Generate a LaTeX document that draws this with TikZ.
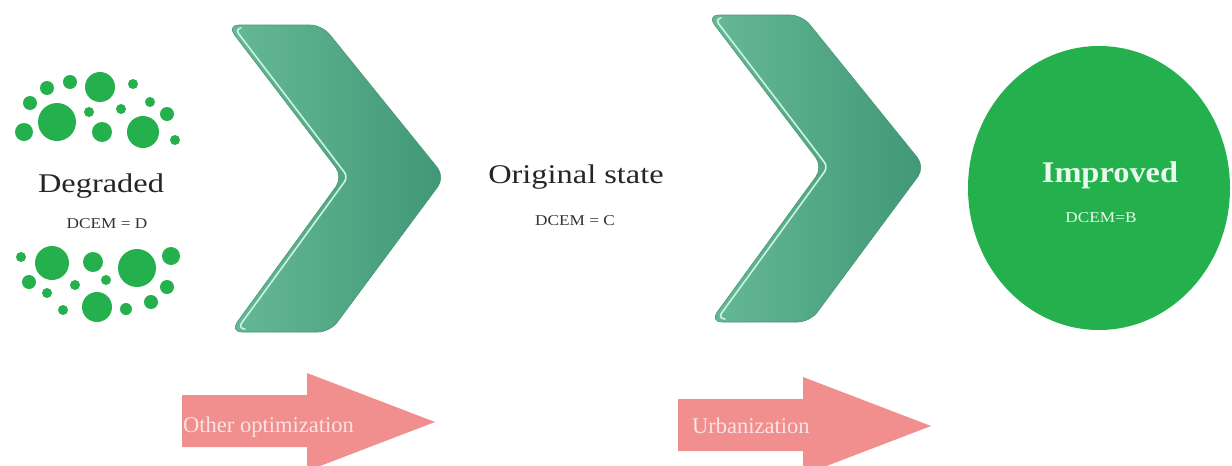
\documentclass[tikz,border=0pt]{standalone}
\usepackage{fontspec}
\setmainfont{Liberation Serif}
\usetikzlibrary{calc}
\definecolor{dotgreen}{RGB}{36,176,76}
\definecolor{chevlight}{RGB}{102,185,150}
\definecolor{chevdark}{RGB}{64,152,118}
\definecolor{chevrim}{RGB}{72,150,118}
\definecolor{chevshine}{RGB}{205,244,224}
\definecolor{arrowpink}{RGB}{241,142,142}
\definecolor{arrowtext}{RGB}{252,228,226}
\definecolor{paletext}{RGB}{232,250,236}
\tikzset{
  dot/.style={fill=dotgreen},
  bigtitle/.style={anchor=base, text=black!85, font=\fontsize{27}{30}\selectfont, inner sep=0pt},
  smalltag/.style={anchor=base, text=black!80, font=\fontsize{15}{17}\selectfont, inner sep=0pt},
  arrowlabel/.style={anchor=base west, text=arrowtext, font=\fontsize{22.5}{24}\selectfont, inner sep=0pt},
  chevron/.pic={
    \shade[left color=chevlight, right color=chevdark, draw=chevrim, line width=0.6pt,
           rounded corners=12pt]
      (0,0) -- (95,0) -- (218,152) -- (103,307) -- (3,307) -- (116,152) -- cycle;
    \draw[chevshine, line width=1.6pt, rounded corners=6pt, line cap=round]
      (14,3) -- (8,4) -- (121,152) -- (11,303) -- (18,304);
  },
  pinkarrow/.pic={
    \fill[arrowpink] (0,0) -- (125,0) -- (125,-22) -- (253,27) -- (125,76) -- (125,52) -- (0,52) -- cycle;
  }
}
\begin{document}
\begin{tikzpicture}[x=1pt, y=-1pt]
\useasboundingbox (0,0) rectangle (1232,466);
\fill[white] (0,0) rectangle (1232,466);

% upper cluster of dots
\foreach \cx/\cy/\r in {100/87/15, 57/122/19, 143/132/16, 102/132/10, 24/132/9,
  30/103/7, 47/88/7, 70/82/7, 133/84/5, 150/102/5, 167/114/7, 175/140/5,
  89/112/5, 121/109/5}
  \fill[dot] (\cx,\cy) circle[radius=\r];

% lower cluster of dots
\foreach \cx/\cy/\r in {52/263/17, 137/268/19, 97/307/15, 93/262/10, 171/256/9,
  21/257/5, 29/282/7, 47/293/5, 75/285/5, 106/280/5, 167/287/7, 151/302/7,
  126/309/6, 63/310/5}
  \fill[dot] (\cx,\cy) circle[radius=\r];

\node[bigtitle] (degraded) at (101,192) {\scalebox{1.2}[1]{Degraded}};
\node[smalltag] (dcemd) at (107,228) {\scalebox{1.15}[1]{DCEM = D}};

% chevrons
\pic at (227,25) {chevron};
\pic at (707,15) {chevron};

\node[bigtitle] (original) at (576,183) {\scalebox{1.2}[1]{Original state}};
\node[smalltag] (dcemc) at (575,225) {\scalebox{1.15}[1]{DCEM = C}};

% improved state
\fill[dotgreen] (1099,188) ellipse[x radius=131, y radius=142];
\node[anchor=base, text=paletext, font=\fontsize{30}{32}\selectfont\bfseries, inner sep=0pt]
  (improved) at (1110,182) {\scalebox{1.08}[1]{Improved}};
\node[anchor=base, text=paletext, font=\fontsize{15}{17}\selectfont, inner sep=0pt]
  (dcemb) at (1101,222) {\scalebox{1.15}[1]{DCEM=B}};

% pink arrows
\pic at (182,395) {pinkarrow};
\pic at (678,399) {pinkarrow};
\node[arrowlabel] (otheropt) at (183,432) {Other optimization};
\node[arrowlabel] (urban) at (692,433) {Urbanization};
\end{tikzpicture}
\end{document}
